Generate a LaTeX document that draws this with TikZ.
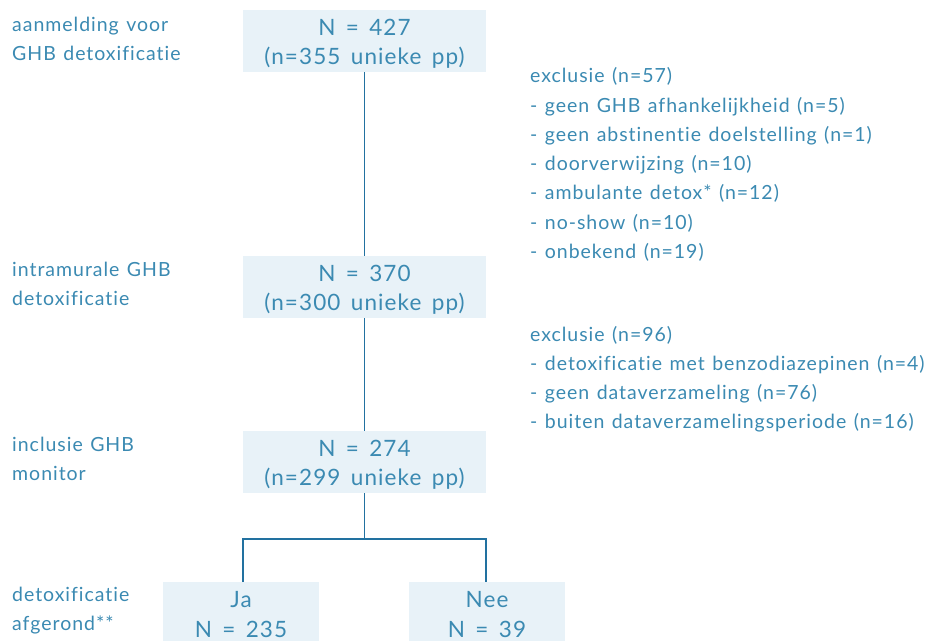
\documentclass[tikz,border=0pt]{standalone}
\usepackage{fontspec}
\setmainfont{Lato}[LetterSpace=5,WordSpace=1.5,RawFeature={-liga,-dlig,-clig}]
\newfontfamily\lblfont{Lato}[LetterSpace=5,WordSpace=1.25,RawFeature={-liga,-dlig,-clig}]
\definecolor{txt}{HTML}{3B8AB2}
\definecolor{ln}{HTML}{2271A0}
\definecolor{boxfill}{HTML}{E8F2F8}
\begin{document}
\begin{tikzpicture}[x=1pt,y=-1pt,
  lbl/.style={anchor=base west,inner sep=0pt,text=txt,font=\lblfont\fontsize{19.5}{29}\selectfont},
  boxtxt/.style={anchor=base,inner sep=0pt,text=txt,font=\fontsize{22.5}{29}\selectfont},
  conn/.style={draw=ln,line width=1.4pt}]
\useasboundingbox (0,0) rectangle (937,641);
% boxes
\fill[boxfill] (243,10) rectangle (486,72);
\coordinate (b1) at (364.5,72);
\fill[boxfill] (243,256) rectangle (486,318);
\coordinate (b2t) at (364.5,256); \coordinate (b2b) at (364.5,318);
\fill[boxfill] (243,431) rectangle (486,493);
\coordinate (b3t) at (364.5,431); \coordinate (b3b) at (364.5,493);
\fill[boxfill] (163,582) rectangle (319,641);
\fill[boxfill] (409,582) rectangle (565,641);
\coordinate (ja) at (243,582); \coordinate (nee) at (486,582);
\coordinate (split) at (364.5,539);
% connectors
\draw[conn] (b1) -- (b2t);
\draw[conn] (b2b) -- (b3t);
\draw[conn] (b3b) -- (split);
\draw[conn] (ja) |- (split) -| (nee);
% box text
\node[boxtxt] (t1a) at (364.5,35) {N = 427};
\node[boxtxt] (t1b) at (364.5,64) {(n=355 unieke pp)};
\node[boxtxt] (t2a) at (364.5,281) {N = 370};
\node[boxtxt] (t2b) at (364.5,310) {(n=300 unieke pp)};
\node[boxtxt] (t3a) at (364.5,456) {N = 274};
\node[boxtxt] (t3b) at (364.5,485) {(n=299 unieke pp)};
\node[boxtxt] (t4a) at (241,607) {Ja};
\node[boxtxt] (t4b) at (241,637) {N = 235};
\node[boxtxt] (t5a) at (487,607) {Nee};
\node[boxtxt] (t5b) at (487,637) {N = 39};
% left labels
\node[lbl] (l1a) at (12,31.7) {aanmelding voor};
\node[lbl] (l1b) at (12,60) {GHB detoxificatie};
\node[lbl] (l2a) at (12,276) {intramurale GHB};
\node[lbl] (l2b) at (12,305) {detoxificatie};
\node[lbl] (l3a) at (12,451.7) {inclusie GHB};
\node[lbl] (l3b) at (12,480) {monitor};
\node[lbl] (l4a) at (12,601.7) {detoxificatie};
\node[lbl] (l4b) at (12,630) {afgerond**};
% exclusions
\node[lbl] (e1) at (530,82.7) {exclusie (n=57)};
\node[lbl] (e2) at (530,112) {- geen GHB afhankelijkheid (n=5)};
\node[lbl] (e3) at (530,141.3) {- geen abstinentie doelstelling (n=1)};
\node[lbl] (e4) at (530,170.6) {- doorverwijzing (n=10)};
\node[lbl] (e5) at (530,199.9) {- ambulante detox* (n=12)};
\node[lbl] (e6) at (530,229.2) {- no-show (n=10)};
\node[lbl] (e7) at (530,258.5) {- onbekend (n=19)};
\node[lbl] (f1) at (530,341.7) {exclusie (n=96)};
\node[lbl] (f2) at (530,370.5) {- detoxificatie met benzodiazepinen (n=4)};
\node[lbl] (f3) at (530,399.3) {- geen dataverzameling (n=76)};
\node[lbl] (f4) at (530,428.1) {- buiten dataverzamelingsperiode (n=16)};
\end{tikzpicture}
\end{document}
